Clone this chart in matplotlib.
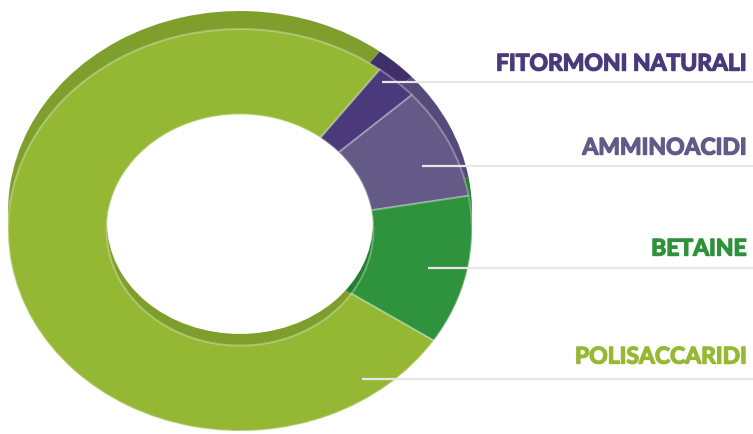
import matplotlib
matplotlib.use("Agg")
import matplotlib.pyplot as plt
from matplotlib.patches import Ellipse
import matplotlib.patheffects as pe

# ---- data ----
categories = ["FITORMONI NATURALI", "AMMINOACIDI", "BETAINE", "POLISACCARIDI"]
values = [3, 9, 12, 76]
face_colors = ["#4b3a7b", "#645a88", "#2f923c", "#95b834"]
rim_colors = ["#3f306c", "#554b7b", "#267e31", "#7f9f2c"]
text_colors = ["#4a3a7c", "#645a88", "#2e923b", "#95b933"]

W, H = 753, 435
fig = plt.figure(figsize=(W / 100, H / 100), dpi=100)
ax = fig.add_axes([0, 0, 1, 1])

cx, cy = 240, 231      # donut centre in pixels
sx, sy = 232, 201      # outer radii in pixels
inner = 0.575

common = dict(startangle=53, counterclock=False)

# back rim (outer wall seen at top)
ax.pie(values, radius=1.0, center=(0, 18 / sy), colors=rim_colors,
       wedgeprops=dict(linewidth=0), **common)
# inner wall seen at bottom of hole
ax.pie(values, radius=inner, center=(0, 0), colors=rim_colors,
       wedgeprops=dict(linewidth=0), **common)
ax.add_patch(Ellipse((0, 0.035), 2 * 0.573, 2 * 0.552, facecolor="white",
                     edgecolor="none", zorder=3))
# top face
wedges, _ = ax.pie(values, radius=1.0, center=(0, 0), colors=face_colors,
                   wedgeprops=dict(width=1 - inner, linewidth=1.4,
                                   edgecolor="#ffffff50"), **common)
for w in wedges:
    w.set_zorder(4)

ax.set_aspect("auto")
ax.set_xlim(-cx / sx, (W - cx) / sx)
ax.set_ylim(-(H - cy) / sy, cy / sy)
ax.axis("off")

# overlay for labels / leader lines in pixel coords
ov = fig.add_axes([0, 0, 1, 1], facecolor="none")
ov.set_xlim(0, W)
ov.set_ylim(H, 0)
ov.axis("off")

label_y = [65, 149, 250, 358]
line_y = [83, 167, 269, 380]
line_x0 = [382, 422, 428, 362]
for cat, col, ty, ly, lx in zip(categories, text_colors, label_y, line_y, line_x0):
    ov.plot([lx, W], [ly, ly], color="#e6e6e6", lw=1.6, solid_capstyle="butt",
            zorder=5)
    ov.text(747, ty, cat, color=col, ha="right", va="center",
            fontsize=16.5, fontweight="bold", family=["Lato", "DejaVu Sans"],
            path_effects=[pe.withStroke(linewidth=1.0, foreground=col)])

fig.savefig("out.png", dpi=100)
